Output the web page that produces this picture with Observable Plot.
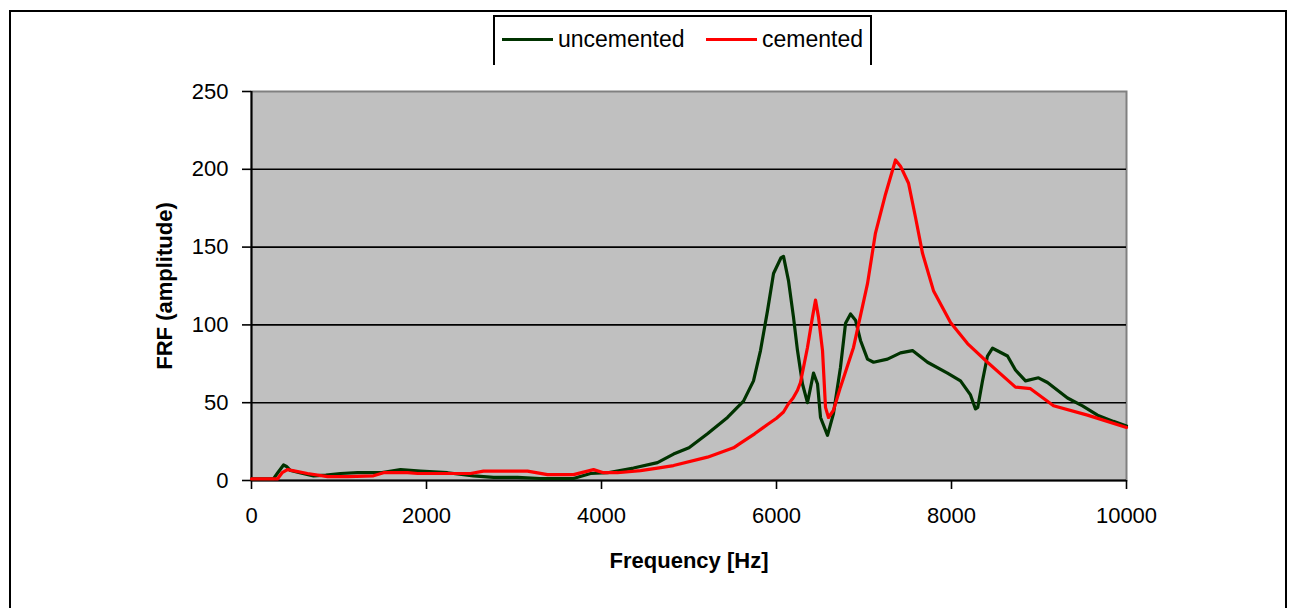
<!DOCTYPE html>
<html><head><meta charset="utf-8">
<script src="https://cdn.jsdelivr.net/npm/d3@7"></script>
<script src="https://cdn.jsdelivr.net/npm/@observablehq/plot@0.6"></script>
<style>
body{margin:0;background:#fff;font-family:"Liberation Sans",Arial,sans-serif;}
#wrap{position:relative;width:1290px;height:608px;overflow:hidden;}
#chart{position:absolute;left:0;top:0;}
#border{position:absolute;left:9px;top:10px;width:1278px;height:640px;border:2px solid #000;box-sizing:border-box;}
#legend{position:absolute;left:493px;top:15px;width:379px;height:50px;border:2px solid #000;border-bottom:none;box-sizing:border-box;background:#fff;font-size:23px;color:#000;}
.item{position:absolute;top:9px;display:flex;align-items:center;height:26px;white-space:nowrap;}
.sw{display:inline-block;width:51px;height:3px;margin-right:5px;}
g[aria-label="x-axis label"], g[aria-label="y-axis label"]{font-weight:bold;}
</style></head>
<body>
<div id="wrap">
  <div id="chart"></div>
  <div id="border"></div>
  <div id="legend"></div>
</div>
<script>
// Frequency axis ticks and amplitude ticks
const xTicks = [0, 2000, 4000, 6000, 8000, 10000];
const yTicks = [0, 50, 100, 150, 200, 250];
const seriesNames = ["uncemented", "cemented"];
const seriesColors = ["#003300", "#ff0000"];

// uncemented (dark green)
const uncemFreq = [0, 250, 300, 366, 400, 446, 550, 709, 850, 1017, 1211, 1474, 1703, 1931, 2240, 2537, 2766, 3040, 3303, 3680, 3874, 4069, 4366, 4640, 4823, 5000, 5211, 5440, 5623, 5737, 5817, 5897, 5966, 6050, 6080, 6137, 6194, 6240, 6297, 6354, 6423, 6469, 6503, 6583, 6651, 6731, 6789, 6846, 6903, 6960, 7040, 7109, 7269, 7417, 7554, 7726, 7954, 8103, 8217, 8274, 8300, 8354, 8411, 8469, 8640, 8731, 8846, 8994, 9097, 9326, 9497, 9669, 9850, 10000];
const uncemAmp  = [1, 1, 5, 10, 9, 6.4, 5, 3, 3.5, 4.5, 5, 5, 7, 6, 5, 3, 2, 2, 1.3, 1.3, 4.5, 5, 8, 11.5, 17, 21, 30, 40.5, 51, 64, 83.5, 109, 133, 143, 144, 128.5, 105, 83.5, 62, 50, 69, 62, 40.5, 29, 43, 72.6, 101, 107, 103, 90, 78, 76, 78, 82, 83.5, 76, 69, 64, 55, 46, 47, 64, 80, 85, 80, 71, 64, 66, 63, 53, 48, 42, 38, 35];

// cemented (red)
const cemFreq = [0, 297, 350, 411, 500, 640, 869, 1100, 1394, 1509, 1783, 1897, 2503, 2651, 3154, 3383, 3680, 3909, 4023, 4183, 4446, 4640, 4823, 5211, 5509, 5589, 5750, 5897, 6000, 6080, 6133, 6190, 6240, 6274, 6354, 6411, 6446, 6480, 6526, 6560, 6594, 6650, 6731, 6880, 7040, 7131, 7246, 7360, 7417, 7509, 7589, 7669, 7794, 7989, 8183, 8411, 8731, 8903, 9166, 9554, 10000];
const cemAmp  = [1, 1, 5, 7, 6, 4.5, 2.5, 2.5, 3, 5, 5, 4.5, 4.5, 6, 6, 3.8, 3.8, 7, 5, 5, 6.4, 8, 9.6, 15, 21, 24, 30, 36, 40, 44, 49, 53, 58, 63, 85.5, 105, 116, 105, 83.5, 47, 40.5, 45, 60, 85.5, 126.5, 159, 184, 206, 202, 191, 169, 146, 122, 101.5, 88, 76, 60, 59, 48, 42, 34];

const uncem = uncemFreq.map((f, i) => ({f, v: uncemAmp[i]}));
const cem = cemFreq.map((f, i) => ({f, v: cemAmp[i]}));

const fmt = d3.format("d");
const chart = Plot.plot({
  width: 1290, height: 608,
  marginLeft: 251, marginRight: 164, marginTop: 91, marginBottom: 128,
  style: {fontFamily: "'Liberation Sans', Arial, sans-serif", fontSize: "22px", background: "transparent", color: "#000"},
  x: {domain: [0, 10000]},
  y: {domain: [0, 250]},
  marks: [
    Plot.frame({fill: "#c0c0c0", stroke: "#808080", strokeWidth: 2}),
    Plot.gridY(yTicks.filter(d => d > 0 && d < 250), {stroke: "#000", strokeOpacity: 1, strokeWidth: 1.6}),
    Plot.axisX({ticks: xTicks, tickSize: 9, tickPadding: 18, tickFormat: fmt, stroke: "#000", strokeWidth: 1.6,
      label: "Frequency [Hz]", labelAnchor: "center", labelOffset: 87, labelArrow: "none"}),
    Plot.axisY({ticks: yTicks, tickSize: 9, tickPadding: 14, tickFormat: fmt, stroke: "#000", strokeWidth: 1.6,
      label: "FRF (amplitude)", labelAnchor: "center", labelOffset: 95, labelArrow: "none"}),
    Plot.ruleY([0], {stroke: "#000", strokeWidth: 2}),
    Plot.ruleX([0], {stroke: "#000", strokeWidth: 2}),
    Plot.line(uncem, {x: "f", y: "v", stroke: seriesColors[0], strokeWidth: 3.2}),
    Plot.line(cem, {x: "f", y: "v", stroke: seriesColors[1], strokeWidth: 3.2})
  ]
});
document.getElementById("chart").appendChild(chart);

const legend = document.getElementById("legend");
const lefts = [7, 211];
seriesNames.forEach((name, i) => {
  const it = document.createElement("div");
  it.className = "item";
  it.style.left = lefts[i] + "px";
  const sw = document.createElement("span");
  sw.className = "sw";
  sw.style.background = seriesColors[i];
  it.appendChild(sw);
  it.appendChild(document.createTextNode(name));
  legend.appendChild(it);
});
</script>
</body></html>
